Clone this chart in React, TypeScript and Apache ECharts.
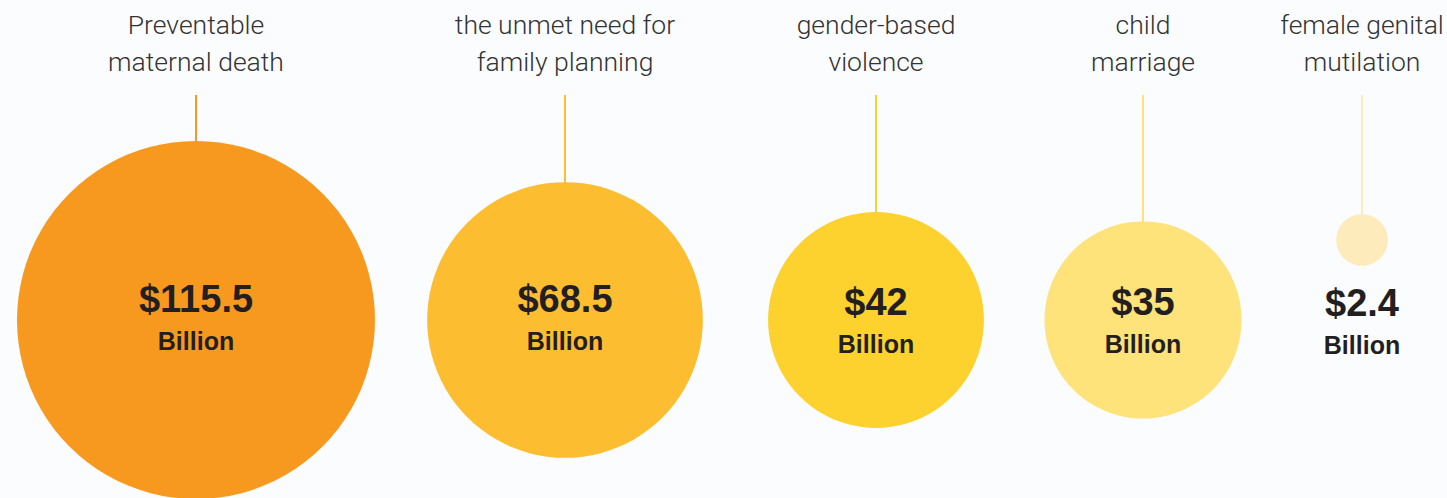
import React, { useEffect, useRef } from "react";
import * as echarts from "echarts";

const categories = [
  "Preventable\nmaternal death",
  "the unmet need for\nfamily planning",
  "gender-based\nviolence",
  "child\nmarriage",
  "female genital\nmutilation",
];
const values = [115.5, 68.5, 42, 35, 2.4];
const unitLabel = "Billion";
const colors = ["#f7991f", "#fdbd30", "#fdd22f", "#fee27a", "#feebbb"];
// layout (chart pixel space)
const centerX = [196, 565, 876, 1143, 1362];
const centerY = [320, 320, 320, 320, 240];

const MAX_R = 179;
const LINE_TOP = 95;

export default function App() {
  const ref = useRef<HTMLDivElement>(null);
  useEffect(() => {
    document.body.style.margin = "0";
    const chart = echarts.init(ref.current!, null, { renderer: "svg" });
    const maxV = Math.max(...values);
    const radius = (v: number) => Math.sqrt(v / maxV) * MAX_R;
    const rich = {
      v: { fontFamily: "Liberation Sans", fontWeight: "bold", fontSize: 38, color: "#231f20", lineHeight: 40 },
      b: { fontFamily: "Liberation Sans", fontWeight: "bold", fontSize: 25, color: "#231f20", lineHeight: 44 },
    };
    const scatterData = values.map((v, i) => ({
      value: [centerX[i], centerY[i], v],
      itemStyle: { color: colors[i], opacity: 1 },
      label:
        radius(v) < 60
          ? { position: "bottom", distance: 17 }
          : { position: "inside", offset: [0, i >= 2 ? 4 : 1] },
    }));
    chart.setOption({
      animation: false,
      backgroundColor: "#fbfcfd",
      grid: { left: 0, right: 0, top: 0, bottom: 0 },
      xAxis: { type: "value", min: 0, max: 1447, show: false },
      yAxis: { type: "value", min: 0, max: 498, inverse: true, show: false },
      series: [
        {
          type: "custom",
          z: 1,
          data: values.map((v, i) => [centerX[i], centerY[i], v, i]),
          renderItem: (params: any, api: any) => {
            const x = api.value(0);
            const y = api.value(1);
            const v = api.value(2);
            const i = api.value(3);
            const p0 = api.coord([x, LINE_TOP]);
            const pc = api.coord([x, y]);
            const r = radius(v);
            return {
              type: "group",
              children: [
                {
                  type: "line",
                  shape: { x1: p0[0], y1: p0[1], x2: pc[0], y2: pc[1] - r + 1 },
                  style: { stroke: colors[i], lineWidth: 2 },
                },
                {
                  type: "text",
                  x: p0[0],
                  y: 42.5,
                  style: {
                    text: categories[i],
                    fill: "#333333",
                    font: "300 26.5px Roboto",
                    lineHeight: 37,
                    align: "center",
                    verticalAlign: "middle",
                  },
                },
              ],
            };
          },
        },
        {
          type: "scatter",
          z: 2,
          data: scatterData,
          symbol: "circle",
          symbolSize: (val: number[]) => radius(val[2]) * 2,
          label: {
            show: true,
            formatter: (p: any) => `{v|$${p.value[2]}}\n{b|${unitLabel}}`,
            rich,
          },
          emphasis: { disabled: true },
        },
      ],
    });
    return () => chart.dispose();
  }, []);
  return <div ref={ref} style={{ width: 1447, height: 498 }} />;
}
